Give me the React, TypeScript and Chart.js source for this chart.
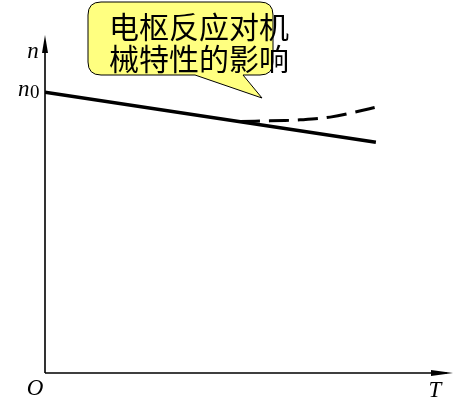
import React, { useEffect, useRef } from "react";
import { Chart, registerables } from "chart.js";

Chart.register(...registerables);

// Characteristic lines (x: torque T, y: speed n), in axis units 0..100
const solidT = [0, 81.1];
const solidN = [83.1, 68.3];
const dashedT = [47.8, 55.1, 62.5, 69.9, 76.0, 81.6];
const dashedN = [74.4, 74.6, 74.9, 75.7, 77.2, 78.8];
const n0Value = 83.1;
const calloutLines = ["电枢反应对机", "械特性的影响"];
const axisLabels = { y: "n", x: "T", origin: "O", n0: "n" };

const axesPlugin = {
  id: "axesPlugin",
  afterDraw(chart: any) {
    const ctx = chart.ctx as CanvasRenderingContext2D;
    const xs = chart.scales.x;
    const ys = chart.scales.y;
    const x0 = xs.getPixelForValue(0);
    const y0 = ys.getPixelForValue(0);
    const xEnd = xs.getPixelForValue(100);
    const yEnd = ys.getPixelForValue(100);
    ctx.save();
    ctx.strokeStyle = "#000";
    ctx.fillStyle = "#000";
    ctx.lineWidth = 1.6;
    ctx.beginPath();
    ctx.moveTo(x0, y0);
    ctx.lineTo(x0, yEnd + 6);
    ctx.moveTo(x0, y0);
    ctx.lineTo(xEnd - 6, y0);
    ctx.stroke();
    // arrows
    ctx.beginPath();
    ctx.moveTo(x0, yEnd);
    ctx.lineTo(x0 - 3, yEnd + 18);
    ctx.lineTo(x0 + 3, yEnd + 18);
    ctx.closePath();
    ctx.fill();
    ctx.beginPath();
    ctx.moveTo(xEnd, y0);
    ctx.lineTo(xEnd - 22, y0 - 3);
    ctx.lineTo(xEnd - 22, y0 + 3);
    ctx.closePath();
    ctx.fill();

    // axis labels
    ctx.font = "italic 23px 'Liberation Serif', 'DejaVu Serif', serif";
    ctx.textAlign = "center";
    ctx.textBaseline = "alphabetic";
    ctx.fillText(axisLabels.y, x0 - 12, yEnd + 23);
    ctx.fillText(axisLabels.origin, x0 - 10, y0 + 22);
    ctx.fillText(axisLabels.x, xEnd - 18, y0 + 24);
    const n0y = ys.getPixelForValue(n0Value);
    ctx.textAlign = "left";
    ctx.fillText(axisLabels.n0, x0 - 27, n0y + 4);
    ctx.font = "19px 'Liberation Serif', 'DejaVu Serif', serif";
    ctx.fillText("0", x0 - 15, n0y + 6);

    // callout
    const left = 88, top = 2, right = 273, bottom = 75, r = 13;
    ctx.beginPath();
    ctx.moveTo(left + r, top);
    ctx.lineTo(right - r, top);
    ctx.quadraticCurveTo(right, top, right, top + r);
    ctx.lineTo(right, bottom - r);
    ctx.quadraticCurveTo(right, bottom, right - r, bottom);
    ctx.lineTo(243, bottom);
    ctx.lineTo(262, 98);
    ctx.lineTo(195, bottom);
    ctx.lineTo(left + r, bottom);
    ctx.quadraticCurveTo(left, bottom, left, bottom - r);
    ctx.lineTo(left, top + r);
    ctx.quadraticCurveTo(left, top, left + r, top);
    ctx.closePath();
    ctx.fillStyle = "#ffff80";
    ctx.fill();
    ctx.lineWidth = 1;
    ctx.strokeStyle = "#000";
    ctx.stroke();
    ctx.fillStyle = "#000";
    ctx.font = "30px 'Noto Sans CJK SC', sans-serif";
    ctx.textAlign = "left";
    ctx.textBaseline = "middle";
    ctx.fillText(calloutLines[0], 109, 27);
    ctx.fillText(calloutLines[1], 109, 59);
    ctx.restore();
  },
};

export default function App() {
  const ref = useRef<HTMLCanvasElement | null>(null);
  useEffect(() => {
    if (!ref.current) return;
    const chart = new Chart(ref.current, {
      type: "scatter",
      data: {
        datasets: [
          {
            data: solidT.map((t, i) => ({ x: t, y: solidN[i] })),
            showLine: true,
            borderColor: "#000",
            borderWidth: 3.5,
            pointRadius: 0,
            tension: 0,
          },
          {
            data: dashedT.map((t, i) => ({ x: t, y: dashedN[i] })),
            showLine: true,
            borderColor: "#000",
            borderWidth: 3,
            borderDash: [20, 9],
            pointRadius: 0,
            tension: 0.4,
          },
        ],
      },
      options: {
        animation: false,
        responsive: false,
        events: [],
        layout: { padding: { left: 45, right: 11, top: 35, bottom: 44 } },
        plugins: { legend: { display: false }, tooltip: { enabled: false } },
        scales: {
          x: { type: "linear", min: 0, max: 100, display: false },
          y: { type: "linear", min: 0, max: 100, display: false },
        },
      },
      plugins: [axesPlugin],
    });
    return () => chart.destroy();
  }, []);
  return (
    <div style={{ position: "fixed", left: 0, top: 0, width: 464, height: 417, background: "#fff" }}>
      <canvas ref={ref} width={464} height={417} style={{ width: 464, height: 417 }} />
    </div>
  );
}
